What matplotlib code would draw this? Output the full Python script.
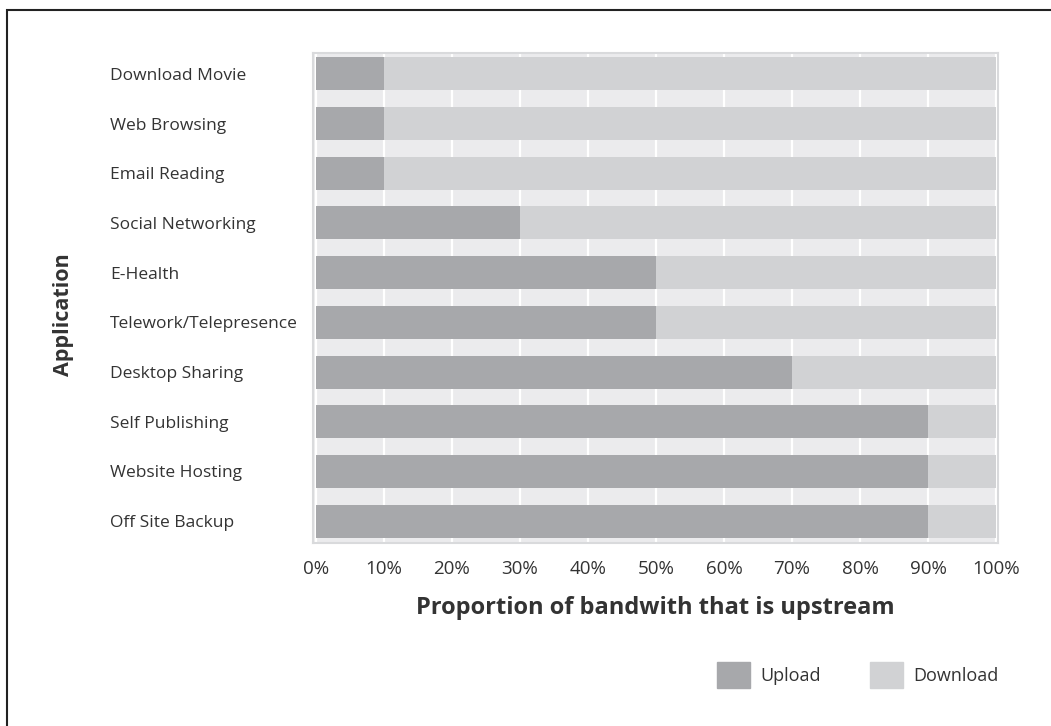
import matplotlib

matplotlib.use("Agg")
import matplotlib.pyplot as plt
from matplotlib.patches import Rectangle, Patch

# data
applications = [
    "Download Movie",
    "Web Browsing",
    "Email Reading",
    "Social Networking",
    "E-Health",
    "Telework/Telepresence",
    "Desktop Sharing",
    "Self Publishing",
    "Website Hosting",
    "Off Site Backup",
]
upload = [10, 10, 10, 30, 50, 50, 70, 90, 90, 90]
download = [100 - u for u in upload]
x_ticks = list(range(0, 101, 10))
x_tick_labels = [f"{t}%" for t in x_ticks]

UPLOAD_COLOR = "#A7A8AB"
DOWNLOAD_COLOR = "#D1D2D4"
PANEL_COLOR = "#EBEBED"
BORDER_COLOR = "#D9DADC"
TEXT_COLOR = "#333333"

plt.rcParams["font.family"] = ["Open Sans", "DejaVu Sans"]

W, H = 1051, 726
fig = plt.figure(figsize=(W / 100, H / 100), dpi=100)

# thin black frame around the figure (top / left edges visible)
fig.patches.append(Rectangle((7 / W, -0.05), 1.1, (H - 10) / H + 0.05,
                             transform=fig.transFigure, fill=False,
                             edgecolor="#222222", linewidth=1.5))

left, right, top, bottom = 313, 998, 53, 543
ax = fig.add_axes([left / W, (H - bottom) / H, (right - left) / W, (bottom - top) / H])
ax.set_facecolor(PANEL_COLOR)

y = list(range(len(applications)))
ax.barh(y, upload, height=0.665, color=UPLOAD_COLOR, zorder=3, label="Upload")
ax.barh(y, download, left=upload, height=0.665, color=DOWNLOAD_COLOR, zorder=3, label="Download")

ax.set_xlim(-0.44, 100.3)
ax.set_ylim(9.44, -0.42)

ax.set_xticks(x_ticks)
ax.set_xticklabels(x_tick_labels)
ax.set_yticks(y)
ax.set_yticklabels(applications, ha="left")
ax.tick_params(axis="both", length=0, colors=TEXT_COLOR)
ax.tick_params(axis="x", pad=12, labelsize=13.5)
ax.tick_params(axis="y", pad=146, labelsize=12.5)

ax.grid(axis="x", color="white", linewidth=1.6, zorder=1)
ax.set_axisbelow(True)
for s in ax.spines.values():
    s.set_color(BORDER_COLOR)
    s.set_linewidth(1.5)

ax.set_xlabel("Proportion of bandwith that is upstream", fontsize=17, fontweight="bold",
              color=TEXT_COLOR, labelpad=13)
fig.text(64 / W, 1 - 315 / H, "Application", rotation=90, fontsize=15.5, fontweight="bold",
         color=TEXT_COLOR, ha="center", va="center")

handles = [Patch(color=UPLOAD_COLOR), Patch(color=DOWNLOAD_COLOR)]
fig.legend(handles, ["Upload", "Download"], loc="center", bbox_to_anchor=(858 / W, 1 - 675 / H),
           ncol=2, frameon=False, fontsize=13, handlelength=1.8, handleheight=1.8,
           handletextpad=0.6, columnspacing=2.7, labelcolor=TEXT_COLOR)

fig.savefig("out.png", dpi=100)
